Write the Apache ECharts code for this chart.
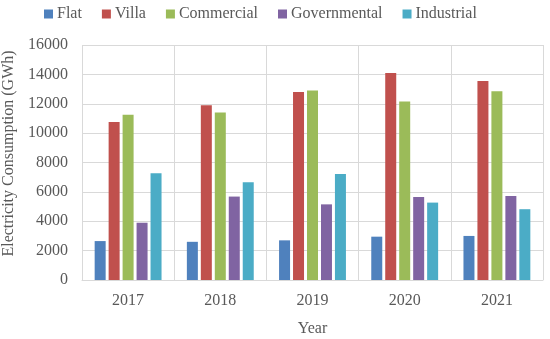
<!DOCTYPE html>
<html>
<head>
<meta charset="utf-8">
<script src="https://cdn.jsdelivr.net/npm/echarts@6/dist/echarts.min.js"></script>
<style>html,body{margin:0;padding:0;background:#fff;}#c{width:550px;height:339px;}</style>
</head>
<body>
<div id="c"></div>
<script>
const years = ['2017', '2018', '2019', '2020', '2021'];
const flat = [2650, 2600, 2700, 2950, 3000];
const villa = [10750, 11900, 12800, 14100, 13550];
const commercial = [11250, 11400, 12900, 12150, 12850];
const governmental = [3900, 5680, 5150, 5650, 5720];
const industrial = [7260, 6650, 7220, 5270, 4820];
const yTicks = [0, 2000, 4000, 6000, 8000, 10000, 12000, 14000, 16000];

const seriesNames = ['Flat', 'Villa', 'Commercial', 'Governmental', 'Industrial'];
const seriesData = [flat, villa, commercial, governmental, industrial];
const colors = ['#4F81BD', '#C0504D', '#9BBB59', '#8064A2', '#4BACC6'];
const font = '"Liberation Serif", serif';
const txt = '#595959';

const chart = echarts.init(document.getElementById('c'));
chart.setOption({
  animation: false,
  color: colors,
  textStyle: { fontFamily: font },
  legend: {
    top: 1,
    left: 39,
    itemWidth: 9, itemHeight: 9, itemGap: 20,
    icon: 'rect',
    textStyle: { fontFamily: font, fontSize: 16, color: txt, padding: [0, 0, 0, -1] },
    data: seriesNames
  },
  grid: { left: 82, right: 7, top: 45, bottom: 59, containLabel: false, outerBoundsMode: 'none' },
  xAxis: {
    type: 'category',
    data: years,
    name: 'Year',
    nameLocation: 'middle',
    nameGap: 41,
    nameTextStyle: { fontFamily: font, fontSize: 16, color: txt },
    axisLine: { show: true, lineStyle: { color: '#d9d9d9' } },
    axisTick: { show: false },
    axisLabel: { fontFamily: font, fontSize: 16, color: txt, margin: 13 },
    splitLine: { show: true, lineStyle: { color: '#d9d9d9' } }
  },
  yAxis: {
    type: 'value',
    min: 0, max: 16000, interval: 2000,
    name: 'Electricity Consumption (GWh)',
    nameLocation: 'middle',
    nameGap: 49,
    nameTextStyle: { fontFamily: font, fontSize: 16, color: txt, padding: [0, 0, 0, 18] },
    axisLine: { show: false },
    axisTick: { show: false },
    axisLabel: { fontFamily: font, fontSize: 16, color: txt, margin: 14,
      formatter: v => yTicks.includes(v) ? String(v) : '' },
    splitLine: { show: true, lineStyle: { color: '#d9d9d9' } }
  },
  series: seriesNames.map((n, i) => ({
    name: n,
    type: 'bar',
    data: seriesData[i],
    barWidth: 11,
    barGap: '27%',
    itemStyle: { color: colors[i] }
  }))
});
</script>
</body>
</html>
